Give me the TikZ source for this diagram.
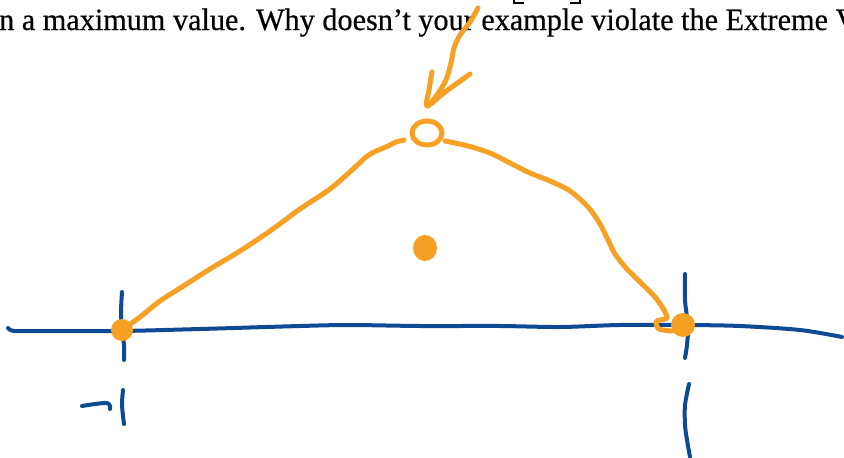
\documentclass[tikz,border=0pt]{standalone}
\usepackage{fontspec}
\setmainfont{Liberation Serif}
\newfontfamily\printfont{Liberation Serif}[FakeBold=0.5,Ligatures=TeX]
\definecolor{pen}{RGB}{246,160,36}
\definecolor{ink}{RGB}{14,74,148}
\tikzset{
  bluestroke/.style={draw=ink, line width=4pt, line cap=round, line join=round},
  orangestroke/.style={draw=pen, line width=5pt, line cap=round, line join=round},
  dotfill/.style={fill=pen},
  printed/.style={draw=black, line width=1.2pt},
}
\begin{document}
\begin{tikzpicture}[x=1pt,y=-1pt]
\useasboundingbox (0,0) rectangle (844,458);
\clip (0,0) rectangle (844,458);
% printed text
\node[anchor=base west, inner sep=0pt] (txt) at (-1,30)
  {\resizebox{858pt}{21.5pt}{\printfont n a maximum value. Why doesn’t your example violate the Extreme V}};
\draw[printed] (514,-6) -- (514,3) -- (524,3);
\draw[printed] (570,3) -- (580,3) -- (580,-6);
% axis
\draw[bluestroke] plot[smooth] coordinates {(8,328)(14,331)(40,331)(120,331)(200,329)(300,326)(350,325)(420,326)(500,326)(560,327)(620,325)(685,325)(740,326)(800,330)(842,337)};
\draw[bluestroke] plot[smooth] coordinates {(122,292)(121,312)(122,330)(124,345)(124,360)};
\draw[bluestroke] plot[smooth] coordinates {(685,274)(685,300)(688,327)(687,345)(685,358)};
% labels -1 and 1
\draw[bluestroke] plot[smooth] coordinates {(82,406)(95,404)(107,403)(110,406)(110,409)};
\draw[bluestroke] plot[smooth] coordinates {(123,390)(122,405)(124,424)};
\draw[bluestroke] plot[smooth] coordinates {(689,384)(685,405)(685,425)(687,440)(690,457)};
% orange graph
\draw[orangestroke] plot[smooth] coordinates {(122,330)(140,317)(160,301)(185,285)(210,269)(240,251)(270,231)(300,209)(330,189)(352,170)(366,157)(374,152)};
\draw[orangestroke] plot[smooth] coordinates {(376,151)(388,146)(396,142)(404,140)};
\draw[orangestroke] plot[smooth] coordinates {(445,141)(468,146)(490,153)(510,163)(530,173)(550,181)(570,191)(588,207)(600,224)(608,240)(615,254)(626,268)(641,283)(655,297)(664,310)(667,318)(660,320)(656,322)(659,329)(672,331)};
\draw[draw=pen, line width=5pt] (427,133) ellipse[x radius=15pt, y radius=12pt];
\fill[dotfill] (122,330) circle[radius=11pt];
\fill[dotfill] (683,325) circle[radius=12pt];
\fill[dotfill] (425,248) ellipse[x radius=12pt, y radius=13pt];
% arrow
\draw[orangestroke] plot[smooth] coordinates {(478,8)(470,22)(460,35)(454,48)(451,63)(446,80)(437,95)(428,106)};
\draw[orangestroke] plot[smooth] coordinates {(432,72)(429,90)(427,106)(445,92)(470,74)};
\end{tikzpicture}
\end{document}
